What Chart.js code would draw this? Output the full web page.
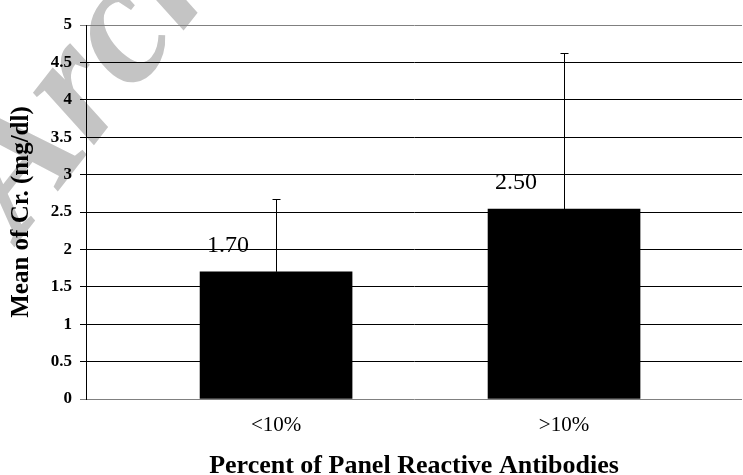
<!DOCTYPE html>
<html>
<head>
<meta charset="utf-8">
<script src="https://cdn.jsdelivr.net/npm/chart.js@4.4.0/dist/chart.umd.min.js"></script>
<style>
  body { margin: 0; background: #fff; }
</style>
</head>
<body>
<canvas id="cr" width="743" height="475"></canvas>
<script>
const groups = ['<10%', '>10%'];
const groupPos = [1, 2];
const meanCr = [1.70, 2.54];
const sdUpper = [2.67, 4.62];
const valueLabels = ['1.70', '2.50'];
const yTicks = [0, 0.5, 1, 1.5, 2, 2.5, 3, 3.5, 4, 4.5, 5];

const serif = '"Liberation Serif", "Times New Roman", serif';

// grey "Archive" stamp behind the chart
const watermark = {
  id: 'watermark',
  beforeDraw(chart) {
    const c = chart.ctx;
    c.save();
    c.fillStyle = '#fff';
    c.fillRect(0, 0, chart.width, chart.height);
    c.translate(20, 240);
    c.rotate(-52 * Math.PI / 180);
    c.font = 'italic bold 175px ' + serif;
    c.fillStyle = '#c4c4c4';
    c.fillText('Archive', 0, 0);
    c.restore();
  }
};

// upper error bars + value labels
const errorBars = {
  id: 'errorBars',
  afterDatasetsDraw(chart) {
    const c = chart.ctx, y = chart.scales.y;
    const bars = chart.getDatasetMeta(0).data;
    c.save();
    c.strokeStyle = '#000';
    c.lineWidth = 1;
    bars.forEach((bar, i) => {
      const x = Math.round(bar.x) + 0.5;
      const top = Math.round(y.getPixelForValue(sdUpper[i])) + 0.5;
      c.beginPath();
      c.moveTo(x, bar.y);
      c.lineTo(x, top);
      c.moveTo(x - 4, top);
      c.lineTo(x + 4, top);
      c.stroke();
    });
    c.font = '24px ' + serif;
    c.fillStyle = '#000';
    c.textAlign = 'center';
    c.textBaseline = 'middle';
    bars.forEach((bar, i) => c.fillText(valueLabels[i], bar.x - 48, bar.y - 26));
    c.restore();
  }
};

new Chart(document.getElementById('cr'), {
  type: 'bar',
  data: {
    datasets: [{
      data: groupPos.map((x, i) => ({ x: x, y: meanCr[i] })),
      backgroundColor: '#000',
      barThickness: 152
    }]
  },
  options: {
    responsive: false,
    animation: false,
    layout: { padding: { top: 25, right: 1, left: 0, bottom: 0 } },
    plugins: { legend: { display: false }, tooltip: { enabled: false } },
    scales: {
      x: {
        type: 'linear',
        offset: false,
        min: 0.34,
        max: 2.618,
        afterBuildTicks: s => { s.ticks = groupPos.map(v => ({ value: v })); },
        afterFit: s => { s.height = 76; },
        grid: { display: false, offset: false },
        border: { display: false },
        ticks: {
          callback: v => groups[groupPos.indexOf(v)],
          font: { family: serif, size: 21 },
          color: '#000',
          padding: 6,
          maxRotation: 0,
          autoSkip: false
        },
        title: {
          display: true,
          text: 'Percent of Panel Reactive Antibodies',
          font: { family: serif, size: 26, weight: 'bold', lineHeight: 0.7 },
          color: '#000',
          padding: 0
        }
      },
      y: {
        min: 0,
        max: 5,
        afterBuildTicks: s => { s.ticks = yTicks.map(v => ({ value: v })); },
        afterFit: s => { s.width = 86; },
        grid: {
          color: ctx => (ctx.tick.value === 0 || ctx.tick.value === 5) ? '#808080' : '#000',
          tickLength: 6
        },
        border: { color: '#000' },
        ticks: {
          callback: v => String(v),
          font: { family: serif, size: 17, weight: 'bold' },
          color: '#000',
          padding: 8
        },
        title: {
          display: true,
          text: 'Mean of Cr. (mg/dl)',
          font: { family: serif, size: 25, weight: 'bold', lineHeight: 1 },
          color: '#000',
          padding: { top: 9, bottom: 0 }
        }
      }
    }
  },
  plugins: [watermark, errorBars]
});
</script>
</body>
</html>
